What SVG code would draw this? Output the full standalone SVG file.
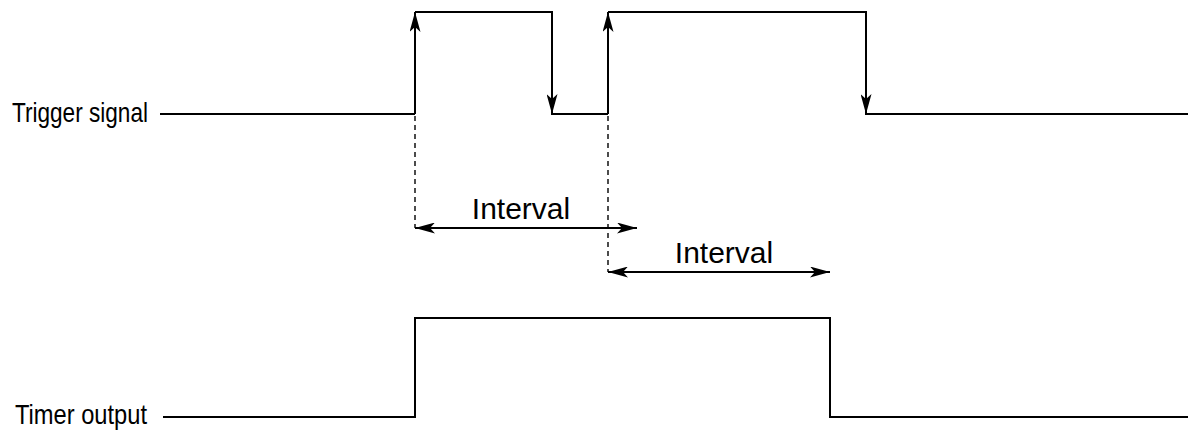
<svg xmlns="http://www.w3.org/2000/svg" width="1200" height="432" viewBox="0 0 1200 432">
<style>
.sig{fill:none;stroke:#000;stroke-width:2;stroke-linejoin:miter}
.dash{fill:none;stroke:#000;stroke-width:1.4;stroke-dasharray:5 4}
.dim{fill:none;stroke:#000;stroke-width:2}
.lbl{font-family:"Liberation Sans",Arial,sans-serif;font-size:28px;fill:#000}
.int{font-family:"Liberation Sans",Arial,sans-serif;font-size:30px;fill:#000;text-anchor:middle}
</style>
<defs>
<marker id="ah" viewBox="0 0 20 11" refX="20" refY="5.5" markerWidth="20" markerHeight="11" markerUnits="userSpaceOnUse" orient="auto-start-reverse">
<path d="M0,0 L20,5.5 L0,11 L5,5.5 Z" fill="#000"/>
</marker>
</defs>
<g id="trigger-label"><text class="lbl" x="12" y="122" textLength="136" lengthAdjust="spacingAndGlyphs">Trigger signal</text></g>
<g id="timer-label"><text class="lbl" x="15" y="424" textLength="132" lengthAdjust="spacingAndGlyphs">Timer output</text></g>
<g id="trigger-signal">
<path class="sig" d="M160,114 H415 M415,12 H552 V114 H608 M608,12 H866 V114 H1188"/>
</g>
<g id="timer-output">
<path class="sig" d="M163,417 H415 V318 H830 V417 H1188"/>
</g>
<g id="connectors">
<line class="sig" x1="415" y1="114" x2="415" y2="12" marker-end="url(#ah)"/>
<line class="sig" x1="608" y1="114" x2="608" y2="12" marker-end="url(#ah)"/>
<line class="sig" x1="552" y1="60" x2="552" y2="114" marker-end="url(#ah)"/>
<line class="sig" x1="866" y1="60" x2="866" y2="114" marker-end="url(#ah)"/>
<line class="dash" x1="415" y1="116" x2="415" y2="228"/>
<line class="dash" x1="608" y1="116" x2="608" y2="272"/>
<line class="dim" x1="415" y1="228" x2="637" y2="228" marker-start="url(#ah)" marker-end="url(#ah)"/>
<line class="dim" x1="608" y1="272" x2="830" y2="272" marker-start="url(#ah)" marker-end="url(#ah)"/>
</g>
<g id="interval-1"><text class="int" x="521" y="219">Interval</text></g>
<g id="interval-2"><text class="int" x="724" y="263">Interval</text></g>
</svg>
